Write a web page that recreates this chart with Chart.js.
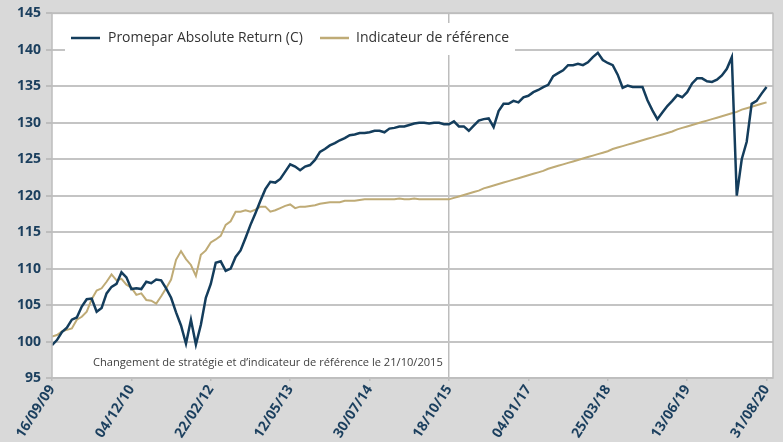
<!DOCTYPE html>
<html>
<head>
<meta charset="utf-8">
<script src="https://cdn.jsdelivr.net/npm/chart.js@4.4.1/dist/chart.umd.min.js"></script>
<style>
  html, body { margin: 0; padding: 0; background: #d9d9d9; }
  #wrap { width: 783px; height: 442px; position: relative; }
</style>
</head>
<body>
<div id="wrap"><canvas id="perfChart"></canvas></div>
<script>
// tick labels on the date axis (one every 16 points)
const tickLabels = ['16/09/09', '04/12/10', '22/02/12', '12/05/13', '30/07/14',
                    '18/10/15', '04/01/17', '25/03/18', '13/06/19', '31/08/20'];
const pointsPerTick = 16;

const seriesNames = ['Promepar Absolute Return (C)', 'Indicateur de référence'];

// fund, base 100
const fundValues = [
  99.5, 100.2, 101.3, 101.9, 103.0, 103.3, 104.8, 105.8, 105.9, 104.1,
  104.6, 106.6, 107.5, 107.9, 109.5, 108.8, 107.2, 107.3, 107.2, 108.2,
  108.0, 108.5, 108.4, 107.3, 106.0, 104.0, 102.2, 99.7, 103.0, 99.6,
  102.3, 106.0, 107.9, 110.8, 111.0, 109.7, 110.0, 111.6, 112.5, 114.2,
  116.0, 117.6, 119.3, 120.9, 121.9, 121.8, 122.3, 123.3, 124.3, 124.0,
  123.5, 124.0, 124.2, 124.9, 126.0, 126.4, 126.9, 127.2, 127.6, 127.9,
  128.3, 128.4, 128.6, 128.6, 128.7, 128.9, 128.9, 128.7, 129.2, 129.3,
  129.5, 129.5, 129.7, 129.9, 130.0, 130.0, 129.9, 130.0, 130.0, 129.8,
  129.8, 130.2, 129.5, 129.5, 128.9, 129.6, 130.3, 130.5, 130.6, 129.4,
  131.6, 132.6, 132.6, 133.0, 132.8, 133.5, 133.7, 134.2, 134.5, 134.9,
  135.2, 136.4, 136.8, 137.2, 137.9, 137.9, 138.1, 137.9, 138.3, 139.0,
  139.6, 138.6, 138.2, 137.9, 136.6, 134.8, 135.1, 134.9, 134.9, 134.9,
  133.1, 131.7, 130.5, 131.4, 132.3, 133.0, 133.8, 133.5, 134.2, 135.4,
  136.1, 136.1, 135.7, 135.6, 135.9, 136.5, 137.4, 139.0, 120.0, 125.0,
  127.4, 132.6, 133.0, 134.0, 134.9
];

// benchmark, base 100
const benchValues = [
  100.7, 100.9, 101.4, 101.6, 101.8, 103.0, 103.4, 104.1, 105.8, 107.0,
  107.3, 108.2, 109.2, 108.4, 108.6, 107.8, 107.4, 106.4, 106.6, 105.7,
  105.6, 105.2, 106.2, 107.3, 108.5, 111.2, 112.4, 111.3, 110.5, 109.0,
  111.9, 112.5, 113.6, 114.0, 114.5, 116.0, 116.5, 117.8, 117.8, 118.0,
  117.8, 118.1, 118.5, 118.5, 117.8, 118.0, 118.3, 118.6, 118.8, 118.3,
  118.5, 118.5, 118.6, 118.7, 118.9, 119.0, 119.1, 119.1, 119.1, 119.3,
  119.3, 119.3, 119.4, 119.5, 119.5, 119.5, 119.5, 119.5, 119.5, 119.5,
  119.6, 119.5, 119.5, 119.6, 119.5, 119.5, 119.5, 119.5, 119.5, 119.5,
  119.5, 119.7, 119.9, 120.1, 120.3, 120.5, 120.7, 121.0, 121.2, 121.4,
  121.6, 121.8, 122.0, 122.2, 122.4, 122.6, 122.8, 123.0, 123.2, 123.4,
  123.7, 123.9, 124.1, 124.3, 124.5, 124.7, 124.9, 125.1, 125.3, 125.5,
  125.7, 125.9, 126.1, 126.4, 126.6, 126.8, 127.0, 127.2, 127.4, 127.6,
  127.8, 128.0, 128.2, 128.4, 128.6, 128.8, 129.1, 129.3, 129.5, 129.7,
  129.9, 130.1, 130.3, 130.5, 130.7, 130.9, 131.1, 131.3, 131.5, 131.8,
  132.0, 132.2, 132.4, 132.6, 132.8
];

const noteText = 'Changement de stratégie et d\u2019indicateur de référence le 21/10/2015';

const NAVY = '#143d5c';
const GOLD = '#bfab76';
const AXIS_TEXT = '#1b3f5e';
const GRID = '#c4c4c4';

// pick a font size so that the text spans the given width
function fitFont(ctx, text, width, weight, family) {
  ctx.font = `${weight} 20px ${family}`;
  const size = 20 * width / ctx.measureText(text).width;
  return `${weight} ${size.toFixed(2)}px ${family}`;
}

const frame = {
  id: 'frame',
  beforeDraw(chart) {
    const { ctx, chartArea: a } = chart;
    ctx.save();
    ctx.fillStyle = '#d9d9d9';
    ctx.fillRect(0, 0, chart.width, chart.height);
    ctx.fillStyle = '#ffffff';
    ctx.fillRect(a.left, a.top, a.right - a.left, a.bottom - a.top);
    ctx.restore();
  },
  afterDraw(chart) {
    const { ctx, chartArea: a } = chart;
    ctx.save();
    // plot border
    ctx.strokeStyle = '#bdbdbd';
    ctx.lineWidth = 1.5;
    ctx.strokeRect(a.left, a.top, a.right - a.left, a.bottom - a.top);

    // legend box, sits over the grid
    ctx.fillStyle = '#ffffff';
    ctx.fillRect(65, 23, 450, 32);
    ctx.lineWidth = 2.5;
    ctx.strokeStyle = NAVY;
    ctx.beginPath(); ctx.moveTo(71, 38); ctx.lineTo(100, 38); ctx.stroke();
    ctx.strokeStyle = GOLD;
    ctx.beginPath(); ctx.moveTo(320, 38); ctx.lineTo(349, 38); ctx.stroke();
    ctx.fillStyle = '#333333';
    ctx.textBaseline = 'middle';
    ctx.font = fitFont(ctx, seriesNames[0], 195, 'normal', '"Open Sans"');
    ctx.fillText(seriesNames[0], 108, 38);
    ctx.font = fitFont(ctx, seriesNames[1], 153, 'normal', '"Open Sans"');
    ctx.fillText(seriesNames[1], 356, 38);

    // note at the bottom of the plot
    ctx.fillStyle = '#404040';
    ctx.font = fitFont(ctx, noteText, 350, 'normal', '"Open Sans"');
    ctx.fillText(noteText, 93, 363);
    ctx.restore();
  }
};

const lastTick = (tickLabels.length - 1) * pointsPerTick;

new Chart(document.getElementById('perfChart'), {
  type: 'line',
  data: {
    datasets: [
      {
        label: seriesNames[0],
        data: fundValues.map((v, i) => ({ x: i, y: v })),
        borderColor: NAVY,
        borderWidth: 2.5,
        pointRadius: 0,
        tension: 0
      },
      {
        label: seriesNames[1],
        data: benchValues.map((v, i) => ({ x: i, y: v })),
        borderColor: GOLD,
        borderWidth: 2,
        pointRadius: 0,
        tension: 0
      }
    ]
  },
  options: {
    responsive: true,
    maintainAspectRatio: false,
    animation: false,
    layout: { padding: { top: 13, right: 10, left: 0, bottom: 0 } },
    plugins: { legend: { display: false }, tooltip: { enabled: false } },
    scales: {
      x: {
        type: 'linear',
        min: 0,
        max: lastTick + 1.3,
        afterBuildTicks(scale) {
          scale.ticks = tickLabels.map((_, i) => ({ value: i * pointsPerTick }));
        },
        afterFit(scale) { scale.height = 64; },
        border: { display: false },
        grid: {
          color: (c) => (c.tick && c.tick.value === 5 * pointsPerTick ? '#bdbdbd' : 'rgba(0,0,0,0)'),
          lineWidth: 1.5,
          tickColor: '#bdbdbd',
          tickLength: 3
        },
        ticks: {
          autoSkip: false,
          minRotation: 57,
          maxRotation: 57,
          padding: 1,
          color: AXIS_TEXT,
          font: { family: '"Open Sans"', size: 14, weight: 'bold' },
          callback: (v) => tickLabels[Math.round(v / pointsPerTick)]
        }
      },
      y: {
        min: 95,
        max: 145,
        afterFit(scale) { scale.width = 52; },
        border: { display: false },
        grid: { color: GRID, lineWidth: 2, tickColor: '#bdbdbd', tickLength: 6 },
        ticks: {
          stepSize: 5,
          padding: 5,
          color: AXIS_TEXT,
          font: { family: '"Open Sans"', size: 14, weight: 'bold' }
        }
      }
    }
  },
  plugins: [frame]
});
</script>
</body>
</html>
